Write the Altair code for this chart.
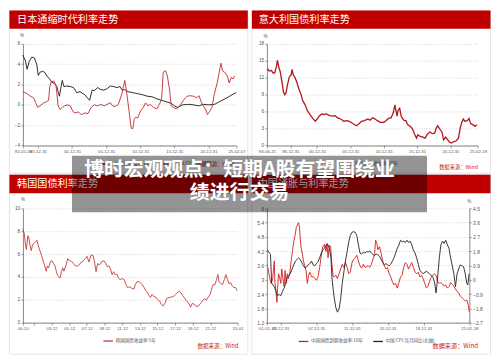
import altair as alt
import pandas as pd

# ---------------- data ----------------
titles = ["日本通缩时代利率走势", "意大利国债利率走势", "韩国国债利率走势", "中国通胀与利率走势"]
source_text = "数据来源：Wind"
headline = ["博时宏观观点：短期A股有望围绕业", "绩进行交易"]

# Japan (top-left)
jp_names = ["日本:国债收益率:10年", "日本:CPI:当月同比"]
jp_bond_t = [1993.80, 1994.18, 1994.41, 1994.74, 1995.11, 1995.49, 1995.82, 1996.05, 1996.29, 1996.66,
             1996.99, 1997.37, 1997.70, 1998.03, 1998.40, 1998.78, 1998.96, 1999.15, 1999.34, 1999.57,
             1999.81, 2000.18, 2000.75, 2001.22, 2001.69, 2002.16, 2002.86, 2003.57, 2003.94, 2004.27,
             2004.74, 2005.21, 2005.68, 2006.15, 2006.62, 2007.09, 2007.56, 2008.03, 2008.35, 2008.73,
             2009.20, 2009.90, 2010.61, 2011.31, 2012.02, 2012.72, 2013.42, 2014.13, 2014.83, 2015.54,
             2016.01, 2016.48, 2017.18, 2018.12, 2018.82, 2019.53, 2020.23, 2020.94, 2021.88, 2022.58,
             2023.28, 2023.99, 2024.46, 2025.05]
jp_bond_v = [4.9, 4.3, 3.5, 4.3, 4.7, 4.6, 4.0, 2.9, 3.2, 3.3,
             3.2, 2.8, 2.55, 2.25, 2.1, 1.8, 1.3, 0.85, 1.6, 2.4,
             1.8, 1.85, 1.8, 1.7, 1.2, 1.3, 1.0, 0.45, 1.45, 1.4,
             1.7, 1.5, 1.45, 1.6, 1.85, 1.8, 1.7, 1.8, 1.45, 1.5,
             1.3, 1.2, 1.1, 1.0, 0.85, 0.8, 0.6, 0.45, 0.3, 0.15,
             -0.1, -0.25, 0.0, 0.05, 0.0, -0.1, 0.05, 0.0, 0.05, 0.3,
             0.55, 0.8, 1.0, 1.2]
jp_cpi_t = [1993.80, 1994.41, 1994.88, 1995.35, 1995.68, 1995.96, 1996.29, 1996.76, 1997.23, 1997.56,
            1997.74, 1997.93, 1998.31, 1998.64, 1998.78, 1998.96, 1999.25, 1999.57, 1999.90, 2000.28,
            2000.75, 2001.12, 2001.45, 2001.92, 2002.39, 2002.86, 2003.33, 2003.80, 2004.27, 2004.74,
            2005.21, 2005.68, 2006.15, 2006.62, 2006.95, 2007.32, 2007.79, 2008.26, 2008.73, 2008.96,
            2009.20, 2009.43, 2009.67, 2009.90, 2010.14, 2010.37, 2010.61, 2011.08, 2011.45, 2011.78,
            2012.11, 2012.49, 2012.95, 2013.42, 2013.80, 2014.13, 2014.36, 2014.69, 2014.97, 2015.30,
            2015.54, 2015.87, 2016.24, 2016.62, 2016.95, 2017.42, 2017.88, 2018.35, 2018.82, 2019.29,
            2019.62, 2019.90, 2020.23, 2020.56, 2020.84, 2021.17, 2021.50, 2021.88, 2022.25, 2022.58,
            2022.82, 2023.05, 2023.38, 2023.75, 2024.04, 2024.32, 2024.60, 2024.83]
jp_cpi_v = [1.3, 1.1, 0.85, 0.7, 0.2, -0.25, -0.1, 0.15, 0.3, 0.45,
            1.8, 2.25, 2.35, 1.95, 1.1, -0.1, -0.45, -0.25, -0.1, 0.0,
            -0.1, -0.65, -0.8, -0.7, -0.95, -0.8, -0.85, -0.25, 0.0, -0.1,
            0.05, -0.1, 0.05, 0.2, -0.1, -0.15, 0.05, 1.0, 2.4, 1.45,
            0.2, -1.0, -2.3, -2.35, -1.35, -1.2, -1.3, -0.55, -0.25, 0.2,
            -0.1, 0.05, -0.25, -0.4, 0.05, 0.55, 3.2, 3.35, 2.85, 1.45,
            -0.1, -0.25, -0.4, -0.25, 0.05, 0.55, 0.85, 0.9, 0.85, 0.7,
            0.9, 0.35, -0.1, -0.4, -0.95, -0.65, -0.25, 1.15, 2.1, 3.2,
            4.1, 3.35, 3.2, 2.85, 2.15, 2.7, 2.55, 2.85]
jp_domain = ["1993-10-19", "2025-02-07"]
jp_tick_dates = ["1993-10-19", "1995-12-31", "2000-12-31", "2005-12-31", "2010-12-31",
                 "2015-12-31", "2020-12-31", "2025-02-07"]
jp_tick_labels = ["92-05-06", "95-12-31", "00-12-31", "05-12-31", "10-12-31",
                  "15-12-31", "20-12-31", "25-02-07"]
jp_y_ticks = [-4, -2, 0, 2, 4, 6]

# Italy (top-right)
it_names = ["意大利:国债收益率:10年"]
it_t = [1993.58, 1993.81, 1994.15, 1994.43, 1994.67, 1994.91, 1995.06, 1995.25, 1995.48, 1995.72,
        1995.96, 1996.15, 1996.34, 1996.53, 1996.82, 1997.11, 1997.25, 1997.44, 1997.68, 1997.97,
        1998.25, 1998.59, 1998.83, 1999.21, 1999.54, 1999.92, 2000.35, 2000.74, 2001.02, 2001.31,
        2001.69, 2002.07, 2002.41, 2002.88, 2003.36, 2003.69, 2004.08, 2004.55, 2005.03, 2005.51,
        2005.99, 2006.46, 2006.94, 2007.32, 2007.66, 2008.13, 2008.61, 2008.95, 2009.33, 2009.71,
        2010.04, 2010.52, 2011.00, 2011.33, 2011.71, 2012.10, 2012.43, 2012.67, 2012.81, 2013.00,
        2013.15, 2013.39, 2013.62, 2013.86, 2014.10, 2014.34, 2014.58, 2014.96, 2015.29, 2015.63,
        2015.92, 2016.11, 2016.49, 2016.87, 2017.20, 2017.54, 2017.92, 2018.30, 2018.64, 2018.87,
        2019.11, 2019.35, 2019.73, 2019.97, 2020.30, 2020.54, 2020.87, 2021.16, 2021.50, 2021.83,
        2022.21, 2022.45, 2022.69, 2022.92, 2023.16, 2023.55, 2023.79, 2024.03, 2024.36, 2024.69,
        2024.98]
it_v = [13.6, 13.2, 13.3, 12.8, 12.9, 14.0, 15.1, 13.9, 13.1, 11.4,
        9.5, 9.0, 9.3, 10.5, 12.1, 12.5, 13.5, 12.5, 12.1, 11.2,
        10.1, 9.1, 8.0, 7.2, 6.2, 5.5, 4.8, 4.3, 4.7, 5.2,
        5.6, 5.5, 5.6, 5.3, 5.2, 5.3, 4.9, 4.7, 4.3, 4.4,
        4.2, 3.8, 3.5, 3.9, 4.3, 4.4, 4.7, 4.5, 4.9, 4.7,
        4.4, 4.1, 4.1, 4.4, 4.8, 4.9, 5.8, 7.2, 6.3, 5.2,
        6.2, 6.6, 5.2, 4.7, 4.4, 4.4, 3.7, 3.4, 3.0, 2.0,
        1.3, 1.9, 1.6, 1.5, 1.3, 2.0, 2.4, 2.1, 2.2, 3.1,
        3.5, 3.0, 2.4, 1.0, 1.5, 1.1, 0.6, 0.45, 0.7, 0.8,
        1.3, 3.0, 4.1, 4.7, 4.3, 4.4, 4.8, 3.9, 3.7, 3.4,
        3.7]
it_domain = ["1993-06-25", "2025-02-18"]
it_tick_dates = ["1993-06-25", "1996-12-31", "2000-12-31", "2005-12-31", "2010-12-31",
                 "2015-12-31", "2020-12-31", "2025-02-18"]
it_tick_labels = ["93-06-25", "96-12-31", "00-12-31", "05-12-31", "10-12-31",
                  "15-12-31", "20-12-31", "25-02-18"]
it_y_ticks = [0, 3, 6, 9, 12, 15, 18]

# Korea (bottom-left)
kr_names = ["韩国国债收益率:5年"]
kr_t = [2000.75, 2000.90, 2001.04, 2001.15, 2001.30, 2001.40, 2001.55, 2001.70, 2001.84, 2001.99,
        2002.20, 2002.35, 2002.50, 2002.68, 2002.86, 2003.04, 2003.22, 2003.40, 2003.51, 2003.66,
        2003.88, 2004.06, 2004.24, 2004.39, 2004.60, 2004.75, 2004.97, 2005.11, 2005.26, 2005.40,
        2005.62, 2005.84, 2006.06, 2006.28, 2006.50, 2006.71, 2006.93, 2007.15, 2007.37, 2007.59,
        2007.80, 2008.02, 2008.24, 2008.46, 2008.68, 2008.86, 2009.04, 2009.22, 2009.48, 2009.70,
        2009.95, 2010.13, 2010.31, 2010.50, 2010.68, 2010.86, 2011.04, 2011.22, 2011.40, 2011.59,
        2011.77, 2012.02, 2012.24, 2012.39, 2012.60, 2012.86, 2013.11, 2013.33, 2013.51, 2013.70,
        2013.95, 2014.20, 2014.50, 2014.68, 2014.86, 2015.04, 2015.22, 2015.40, 2015.59, 2015.80,
        2016.02, 2016.24, 2016.50, 2016.68, 2016.90, 2017.04, 2017.33, 2017.59, 2017.84, 2018.06,
        2018.31, 2018.50, 2018.71, 2018.86, 2019.04, 2019.22, 2019.40, 2019.59, 2019.77, 2019.95,
        2020.13, 2020.31, 2020.50, 2020.68, 2020.90, 2021.11, 2021.33, 2021.55, 2021.77, 2021.99,
        2022.20, 2022.35, 2022.50, 2022.68, 2022.86, 2023.00, 2023.22, 2023.40, 2023.59, 2023.77,
        2023.95, 2024.13, 2024.31, 2024.50, 2024.68, 2024.86, 2025.04]
kr_v = [8.2, 7.8, 6.8, 6.4, 7.6, 7.5, 6.8, 6.3, 6.8, 6.95,
        7.1, 7.2, 6.7, 6.3, 5.9, 5.4, 4.96, 4.5, 4.96, 4.8,
        5.35, 5.4, 5.15, 4.96, 4.3, 4.05, 3.9, 4.4, 4.8, 4.5,
        5.0, 5.6, 5.4, 5.35, 5.15, 4.96, 4.96, 5.07, 5.3, 5.4,
        5.6, 5.8, 5.3, 5.9, 5.9, 5.4, 4.46, 5.15, 5.07, 5.35,
        5.4, 5.2, 4.9, 4.96, 4.7, 4.2, 4.46, 4.2, 4.25, 3.9,
        3.77, 3.85, 3.77, 3.4, 3.07, 3.13, 3.0, 2.94, 3.35, 3.6,
        3.57, 3.4, 3.07, 2.8, 2.66, 2.4, 2.2, 2.47, 2.3, 2.24,
        2.02, 1.9, 1.55, 1.47, 1.75, 2.1, 2.2, 2.24, 2.3, 2.47,
        2.66, 2.74, 2.58, 2.38, 2.2, 1.97, 1.83, 1.63, 1.36, 1.69,
        1.63, 1.47, 1.41, 1.47, 1.69, 1.9, 2.1, 1.97, 2.24, 2.47,
        3.07, 3.35, 3.3, 3.68, 4.2, 3.57, 3.4, 3.35, 3.77, 4.2,
        3.77, 3.4, 3.5, 3.2, 3.07, 3.07, 2.8]
kr_domain = ["2000-10-01", "2025-01-31"]
kr_tick_dates = ["2000-10-01", "2001-12-31", "2003-12-31", "2005-12-31", "2007-12-31", "2009-12-31",
                 "2011-12-31", "2013-12-31", "2015-12-31", "2017-12-31", "2019-12-31",
                 "2021-12-31", "2025-01-31"]
kr_tick_labels = ["00-10", "", "03-12", "05-12", "07-12", "09-12", "11-12", "13-12", "15-12",
                  "17-12", "19-12", "21-12", "25-01"]
kr_y_ticks = [0, 2, 4, 6, 8, 10]

# China (bottom-right)
cn_names = ["中国国债到期收益率:10年", "中国:CPI:当月同比(右轴)"]
cn_bond_t = [2002.59, 2002.77, 2002.95, 2003.13, 2003.31, 2003.38, 2003.49, 2003.60, 2003.67, 2003.78,
             2003.89, 2004.04, 2004.14, 2004.25, 2004.40, 2004.51, 2004.65, 2004.76, 2004.90, 2005.05,
             2005.19, 2005.34, 2005.48, 2005.63, 2005.77, 2005.92, 2006.03, 2006.14, 2006.21, 2006.32,
             2006.46, 2006.57, 2006.71, 2006.86, 2007.00, 2007.15, 2007.29, 2007.47, 2007.66, 2007.84,
             2008.02, 2008.20, 2008.38, 2008.56, 2008.74, 2008.92, 2009.10, 2009.21, 2009.32, 2009.47,
             2009.61, 2009.75, 2009.90, 2010.01, 2010.19, 2010.37, 2010.55, 2010.73, 2010.91, 2011.09,
             2011.27, 2011.46, 2011.64, 2011.82, 2012.00, 2012.18, 2012.36, 2012.54, 2012.72, 2012.90,
             2013.08, 2013.27, 2013.45, 2013.63, 2013.81, 2013.99, 2014.17, 2014.35, 2014.53, 2014.64,
             2014.79, 2014.89, 2015.08, 2015.26, 2015.44, 2015.62, 2015.80, 2015.98, 2016.16, 2016.34,
             2016.52, 2016.70, 2016.88, 2017.07, 2017.25, 2017.43, 2017.61, 2017.79, 2017.97, 2018.15,
             2018.33, 2018.51, 2018.69, 2018.87, 2019.06, 2019.24, 2019.42, 2019.60, 2019.78, 2019.96,
             2020.14, 2020.32, 2020.50, 2020.68, 2020.87, 2021.05, 2021.23, 2021.41, 2021.59, 2021.77,
             2021.95, 2022.13, 2022.31, 2022.49, 2022.68, 2022.86, 2023.04, 2023.22, 2023.40, 2023.58,
             2023.76, 2023.94, 2024.12, 2024.30, 2024.49, 2024.67, 2024.85, 2025.03, 2025.13]
cn_bond_v = [3.52, 3.12, 2.85, 3.05, 3.79, 2.85, 2.58, 2.05, 2.58, 3.25,
             3.12, 2.85, 3.45, 3.12, 2.72, 3.39, 2.85, 3.25, 3.05, 3.32,
             3.79, 4.19, 4.59, 4.86, 5.2, 5.33, 5.4, 5.13, 4.73, 4.32,
             4.06, 3.79, 3.59, 3.39, 2.85, 3.19, 3.32, 3.12, 3.14, 3.05,
             2.98, 3.12, 3.52, 3.99, 4.39, 4.49, 4.19, 4.53, 3.92, 4.46,
             4.39, 3.65, 3.14, 3.12, 3.19, 3.05, 3.25, 3.45, 3.65, 3.52,
             3.72, 3.52, 3.25, 3.32, 3.72, 3.86, 3.92, 4.03, 3.79, 3.59,
             3.49, 3.65, 3.52, 3.55, 3.59, 3.52, 3.65, 3.86, 4.06, 4.66,
             4.53, 4.26, 4.39, 4.12, 3.79, 3.59, 3.45, 3.52, 3.25, 3.12,
             2.92, 2.78, 2.85, 2.65, 2.88, 3.12, 3.19, 3.52, 3.72, 3.65,
             3.45, 3.59, 3.72, 3.52, 3.32, 3.25, 3.32, 3.12, 3.19, 3.05,
             2.85, 2.65, 2.72, 2.92, 3.12, 3.19, 3.25, 3.19, 2.92, 2.85,
             2.88, 2.82, 2.74, 2.78, 2.65, 2.72, 2.88, 2.82, 2.72, 2.61,
             2.51, 2.45, 2.31, 2.25, 2.18, 2.11, 2.15, 1.91, 1.64]
cn_cpi_t = [2002.52, 2002.66, 2002.88, 2003.02, 2003.31, 2003.49, 2003.67, 2003.86, 2004.04, 2004.22,
            2004.40, 2004.58, 2004.76, 2004.94, 2005.12, 2005.30, 2005.48, 2005.67, 2005.85, 2006.03,
            2006.21, 2006.39, 2006.57, 2006.75, 2006.93, 2007.11, 2007.29, 2007.47, 2007.66, 2007.84,
            2008.02, 2008.20, 2008.38, 2008.56, 2008.74, 2008.92, 2009.10, 2009.28, 2009.47, 2009.65,
            2009.75, 2009.90, 2010.04, 2010.19, 2010.37, 2010.55, 2010.73, 2010.91, 2011.09, 2011.27,
            2011.46, 2011.64, 2011.82, 2012.00, 2012.18, 2012.36, 2012.54, 2012.72, 2012.90, 2013.08,
            2013.27, 2013.45, 2013.63, 2013.81, 2013.99, 2014.17, 2014.35, 2014.53, 2014.71, 2014.89,
            2015.08, 2015.26, 2015.44, 2015.62, 2015.80, 2015.98, 2016.16, 2016.34, 2016.52, 2016.70,
            2016.88, 2017.07, 2017.25, 2017.43, 2017.61, 2017.79, 2017.97, 2018.15, 2018.33, 2018.51,
            2018.69, 2018.87, 2019.06, 2019.24, 2019.42, 2019.60, 2019.96, 2020.32, 2020.68, 2021.05,
            2021.23, 2021.41, 2021.59, 2021.77, 2021.95, 2022.13, 2022.31, 2022.49, 2022.68, 2022.86,
            2023.04, 2023.22, 2023.40, 2023.58, 2023.76, 2023.94, 2024.12, 2024.30, 2024.49, 2024.67,
            2024.85, 2024.96, 2025.10]
cn_cpi_v = [1.88, 1.78, 1.6, -0.23, -0.43, -0.73, -1.0, -0.93, -1.0, -0.73,
            -0.53, -0.23, 0.17, 0.27, 0.42, 0.68, 0.94, 1.18, 1.28, 1.38,
            1.28, 1.08, 0.88, 0.74, 0.82, 0.94, 1.02, 1.18, 0.94, 0.88,
            1.02, 1.14, 1.38, 1.68, 1.88, 1.98, 2.19, 2.23, 1.98, 1.38,
            0.17, -0.63, -1.23, -1.74, -2.04, -1.84, -1.23, -0.23, 0.48, 1.18,
            1.78, 2.39, 2.79, 2.99, 3.03, 2.99, 2.79, 2.19, 1.68, 1.62,
            1.74, 1.68, 1.78, 1.74, 1.82, 1.68, 1.58, 1.54, 1.62, 1.58,
            1.48, 1.28, 1.08, 0.94, 1.02, 0.94, 0.88, 0.98, 1.18, 1.38,
            1.68, 1.98, 2.19, 2.49, 2.39, 2.43, 2.35, 2.49, 2.35, 2.43,
            2.19, 1.88, 1.68, 1.38, 0.98, 0.58, 0.38, 0.54, 0.38, 0.17,
            -0.13, -0.83, 0.17, 1.38, 2.19, 2.43, 2.29, 2.49, 2.19, 1.98,
            1.38, 0.88, 0.38, -0.43, 0.38, 0.68, 0.94, 0.88, 0.82, 0.38,
            -0.23, -0.33, 0.38]
cn_domain = ["2002-06-25", "2025-02-18"]
cn_tick_dates = ["2002-06-25", "2003-12-31", "2007-12-31", "2011-12-31", "2015-12-31",
                 "2019-12-31", "2025-02-18"]
cn_tick_labels = ["01-01-31", "03-12-31", "07-12-31", "11-12-31", "15-12-31", "19-12-31", "25-02-18"]
cn_left_ticks = [1.2, 1.8, 2.4, 3, 3.6, 4.2, 4.8, 5.4, 6]
cn_right_ticks = [-2.7, -1.8, -0.9, 0, 0.9, 1.8, 2.7, 3.6, 4.5]

# ---------------- helpers ----------------
FONT = "Liberation Sans"
CJK = "Noto Sans CJK SC"
RED = "#c00000"
GRAY = "#555555"
ONE = pd.DataFrame({"k": [0]})


def date_ms(s):
    return int(pd.Timestamp(s, tz="UTC").value // 1_000_000)


def year_ms(y):
    yr = int(y)
    a = pd.Timestamp(f"{yr}-01-01", tz="UTC")
    b = pd.Timestamp(f"{yr + 1}-01-01", tz="UTC")
    return int((a + (b - a) * (y - yr)).value // 1_000_000)


def frame(ts, vs, name):
    return pd.DataFrame({"t": [year_ms(y) for y in ts], "v": vs, "s": name})


def x_axis(dates, labels):
    vals = [date_ms(d) for d in dates]
    expr = " : ".join(f"abs(time(datum.value) - {v}) < 43200000 ? '{l}'"
                      for v, l in zip(vals, labels)) + " : ''"
    return alt.Axis(values=vals, labelExpr=expr, title=None, grid=False,
                    labelFont=FONT, labelFontSize=4.3, labelColor=GRAY, labelPadding=1.5,
                    labelOverlap=False, labelFlush=False,
                    tickSize=2.5, tickColor="#666", tickWidth=0.6,
                    domainColor="#555", domainWidth=0.7)


def y_axis(vals, fmt, orient="left", grid=True, size=4.8):
    return alt.Axis(values=vals, format=fmt, orient=orient, title=None, grid=grid,
                    gridDash=[1, 1.5], gridColor="#bdbdbd", gridWidth=0.6,
                    labelFont=FONT, labelFontSize=size, labelColor=GRAY, labelPadding=1.2,
                    tickSize=2, tickColor="#666", tickWidth=0.6,
                    domainColor="#555", domainWidth=0.7)


def legend(x, y):
    return alt.Legend(orient="none", legendX=x, legendY=y, direction="horizontal", title=None,
                      symbolType="stroke", symbolSize=94, symbolStrokeWidth=1.3,
                      labelFont=CJK, labelFontSize=4.6, labelColor=GRAY, labelOffset=2,
                      columnPadding=7, padding=0, labelLimit=300)


def box(x, x2, y, y2, **kw):
    return alt.Chart(ONE).mark_rect(**kw).encode(
        x=alt.value(x), x2=alt.value(x2), y=alt.value(y), y2=alt.value(y2))


def txt(x, y, s, **kw):
    return alt.Chart(ONE).mark_text(text=s, **kw).encode(x=alt.value(x), y=alt.value(y))


def panel_frame(x0, x1, y0, y1, bar_y1, title, tx):
    return [
        box(x0, x1, y0, y1, fillOpacity=0, stroke="#d9d9d9", strokeWidth=0.7),
        box(x0, x1, y0, bar_y1, color=RED),
        txt(tx, (y0 + bar_y1) / 2, title, font=CJK, fontSize=10.2, color="white",
            align="left", baseline="middle"),
    ]


def small(x, y, s, align="center"):
    return txt(x, y, s, font=FONT, fontSize=4.5, color=GRAY, align=align, baseline="middle")


def source(x, y, size):
    return txt(x, y, source_text, font=CJK, fontSize=size, color="#cc2020",
               align="right", baseline="middle")


def tscale(dom):
    return alt.Scale(domain=[date_ms(d) for d in dom])


# ---------------- top-left: Japan ----------------
jp_df = pd.concat([frame(jp_bond_t, jp_bond_v, jp_names[0]),
                   frame(jp_cpi_t, jp_cpi_v, jp_names[1])], ignore_index=True)
jp_line = alt.Chart(jp_df).mark_line(strokeWidth=0.9).encode(
    x=alt.X("t:T", scale=tscale(jp_domain), axis=x_axis(jp_tick_dates, jp_tick_labels)),
    y=alt.Y("v:Q", scale=alt.Scale(domain=[-4, 6]), axis=y_axis(jp_y_ticks, "d")),
    color=alt.Color("s:N", scale=alt.Scale(domain=jp_names, range=["#151515", "#c0282d"]),
                    legend=legend(73.5, 115)),
)
tl = alt.layer(
    *panel_frame(-13.6, 226.3, -33.5, 130, -15.3, titles[0], -5.9),
    jp_line,
    small(-1, -7.7, "%"),
    source(212.9, 121.4, 5.2),
).properties(width=214.9, height=102.3)

# ---------------- top-right: Italy ----------------
it_df = frame(it_t, it_v, it_names[0])
it_line = alt.Chart(it_df).mark_line(strokeWidth=1.3).encode(
    x=alt.X("t:T", scale=tscale(it_domain), axis=x_axis(it_tick_dates, it_tick_labels)),
    y=alt.Y("v:Q", scale=alt.Scale(domain=[0, 18]), axis=y_axis(it_y_ticks, "d")),
    color=alt.Color("s:N", scale=alt.Scale(domain=it_names, range=["#b5161d"]),
                    legend=legend(70, 115)),
)
tr = alt.layer(
    *panel_frame(-15.1, 225, -33.5, 130, -15.3, titles[1], -8.3),
    it_line,
    small(-1.5, -6.7, "%"),
    source(212.4, 124.2, 5.3),
).properties(width=212.4, height=102.3)

# ---------------- bottom-left: Korea ----------------
kr_df = frame(kr_t, kr_v, kr_names[0])
kr_line = alt.Chart(kr_df).mark_line(strokeWidth=0.9).encode(
    x=alt.X("t:T", scale=tscale(kr_domain), axis=x_axis(kr_tick_dates, kr_tick_labels)),
    y=alt.Y("v:Q", scale=alt.Scale(domain=[0, 10]), axis=y_axis(kr_y_ticks, "d")),
    color=alt.Color("s:N", scale=alt.Scale(domain=kr_names, range=["#c83a3a"]),
                    legend=legend(80.3, 128)),
)
bl = alt.layer(
    *panel_frame(-13.6, 226.3, -33.9, 146.7, -15.2, titles[2], -5.9),
    kr_line,
    small(0, -8.5, "%"),
    source(216.8, 138.2, 5.6),
).properties(width=215.9, height=115)

# ---------------- bottom-right: China ----------------
cn_color = alt.Scale(domain=cn_names, range=["#d41c1c", "#222222"])
cn_x = alt.X("t:T", scale=tscale(cn_domain), axis=x_axis(cn_tick_dates, cn_tick_labels))
cn_red = alt.Chart(frame(cn_bond_t, cn_bond_v, cn_names[0])).mark_line(strokeWidth=0.9).encode(
    x=cn_x,
    y=alt.Y("v:Q", scale=alt.Scale(domain=[1.2, 6]), axis=y_axis(cn_left_ticks, ".1~f", size=5)),
    color=alt.Color("s:N", scale=cn_color, legend=legend(31.4, 128)),
)
cn_black = alt.Chart(frame(cn_cpi_t, cn_cpi_v, cn_names[1])).mark_line(strokeWidth=0.9).encode(
    x=cn_x,
    y=alt.Y("v:Q", scale=alt.Scale(domain=[-2.7, 4.5]),
            axis=y_axis(cn_right_ticks, ".1~f", orient="right", grid=False, size=5)),
    color=alt.Color("s:N", scale=cn_color, legend=legend(31.4, 128)),
)
br = alt.layer(
    *panel_frame(-15.1, 225, -33.9, 146.7, -15.2, titles[3], -9.3),
    cn_red,
    cn_black,
    small(203.7, -6.6, "%"),
    source(212.4, 138.2, 6.2),
    # headline overlay spanning the centre of the page
    box(-196.1, 161.1, -53, 3.9, color="black", opacity=0.42),
    txt(-27.6, -38.6, headline[0], font=CJK, fontSize=20, fontWeight="bold", color="white",
        align="center", baseline="middle"),
    txt(-27.6, -15.0, headline[1], font=CJK, fontSize=20, fontWeight="bold", color="white",
        align="center", baseline="middle"),
).resolve_scale(y="independent").properties(width=203.7, height=115)

chart = alt.concat(
    tl, tr, bl, br, columns=2, spacing={"row": 62.5, "column": 29.5}, bounds="flush"
).resolve_scale(color="independent").properties(
    padding=0, background="white"
).configure_view(stroke="transparent")

chart.save("out.html", embed_options={"renderer": "svg", "actions": False})
